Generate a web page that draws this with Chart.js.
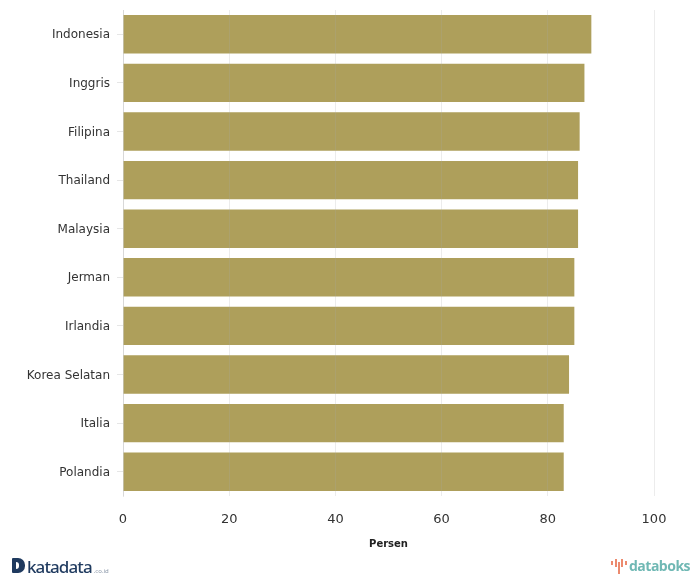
<!DOCTYPE html>
<html>
<head>
<meta charset="utf-8">
<script src="https://cdn.jsdelivr.net/npm/chart.js@4/dist/chart.umd.min.js"></script>
<style>
  html, body { margin: 0; padding: 0; background: #fff; }
  #wrap { position: relative; width: 690px; height: 574px; overflow: hidden; }
  #chart { position: absolute; left: 0; top: 0; }
  .logo { position: absolute; white-space: nowrap; }
  #mark { left: 12px; top: 558px; width: 13px; height: 15px; background: #1f3a5f; border-radius: 1px 7px 7px 1px; }
  #mark i { position: absolute; left: 4px; top: 4px; width: 3px; height: 7px; background: #fff; border-radius: 0 3px 3px 0; }
  #kata { left: 27px; top: 555px; font: 500 17px "Noto Sans", sans-serif; letter-spacing: -0.9px; color: #1f3a5f; }
  #kata small { font-size: 6px; font-weight: 400; letter-spacing: 0; color: #8a97a8; margin-left: 2px; }
  #data { left: 629px; top: 556px; font: bold 14px "Open Sans", sans-serif; letter-spacing: -0.5px; color: #6fb8b4; }
  #spark { left: 611px; top: 558px; }
</style>
</head>
<body>
<div id="wrap">
  <canvas id="chart" width="690" height="574"></canvas>
  <div class="logo" id="mark"><i></i></div>
  <div class="logo" id="kata">katadata<small>.co.id</small></div>
  <svg class="logo" id="spark" width="16" height="16" stroke="#ec8a6e" stroke-width="2" fill="none">
    <path d="M1 3v4M5 1v8M8 4v12M11 1v8M15 3v4"/>
  </svg>
  <div class="logo" id="data">databoks</div>
</div>
<script>
// data
const categories = ["Indonesia", "Inggris", "Filipina", "Thailand", "Malaysia", "Jerman", "Irlandia", "Korea Selatan", "Italia", "Polandia"];
const values = [88.2, 86.9, 86, 85.7, 85.7, 85, 85, 84, 83, 83];
const xTicks = [0, 20, 40, 60, 80, 100];
const xTitle = "Persen";

const ctx = document.getElementById('chart').getContext('2d');
const chart = new Chart(ctx, {
    type: 'bar',
    data: {
        labels: categories,
        datasets: [{
            data: values,
            backgroundColor: '#ae9f5b',
            borderWidth: 0,
            categoryPercentage: 0.79,
            barPercentage: 1
        }]
    },
    options: {
        indexAxis: 'y',
        responsive: false,
        animation: false,
        layout: { padding: { top: 10, right: 36, bottom: 0, left: 0 } },
        plugins: { legend: { display: false }, tooltip: { enabled: false } },
        scales: {
            x: {
                min: 0,
                max: 100,
                afterBuildTicks: axis => { axis.ticks = xTicks.map(v => ({ value: v })); },
                afterFit: axis => { axis.height = 78; },
                grid: { color: 'rgba(170,170,170,0.22)', drawTicks: false, z: 1 },
                border: { display: false },
                ticks: { color: '#333', padding: 16, maxRotation: 0, font: { family: 'DejaVu Sans', size: 13 } },
                title: {
                    display: true,
                    text: xTitle,
                    color: '#222',
                    padding: { top: 10, bottom: 24 },
                    font: { family: 'DejaVu Sans', size: 10, weight: 'bold' }
                }
            },
            y: {
                afterFit: axis => { axis.width = 123; axis.paddingTop = 0; axis.paddingBottom = 0; },
                grid: { display: true, offset: false, drawOnChartArea: false, color: '#e6e6e6', tickLength: 6 },
                border: { display: true, color: '#e6e6e6' },
                ticks: { color: '#333', padding: 7, labelOffset: 1, autoSkip: false, font: { family: 'DejaVu Sans', size: 12 } }
            }
        }
    }
});
</script>
</body>
</html>
